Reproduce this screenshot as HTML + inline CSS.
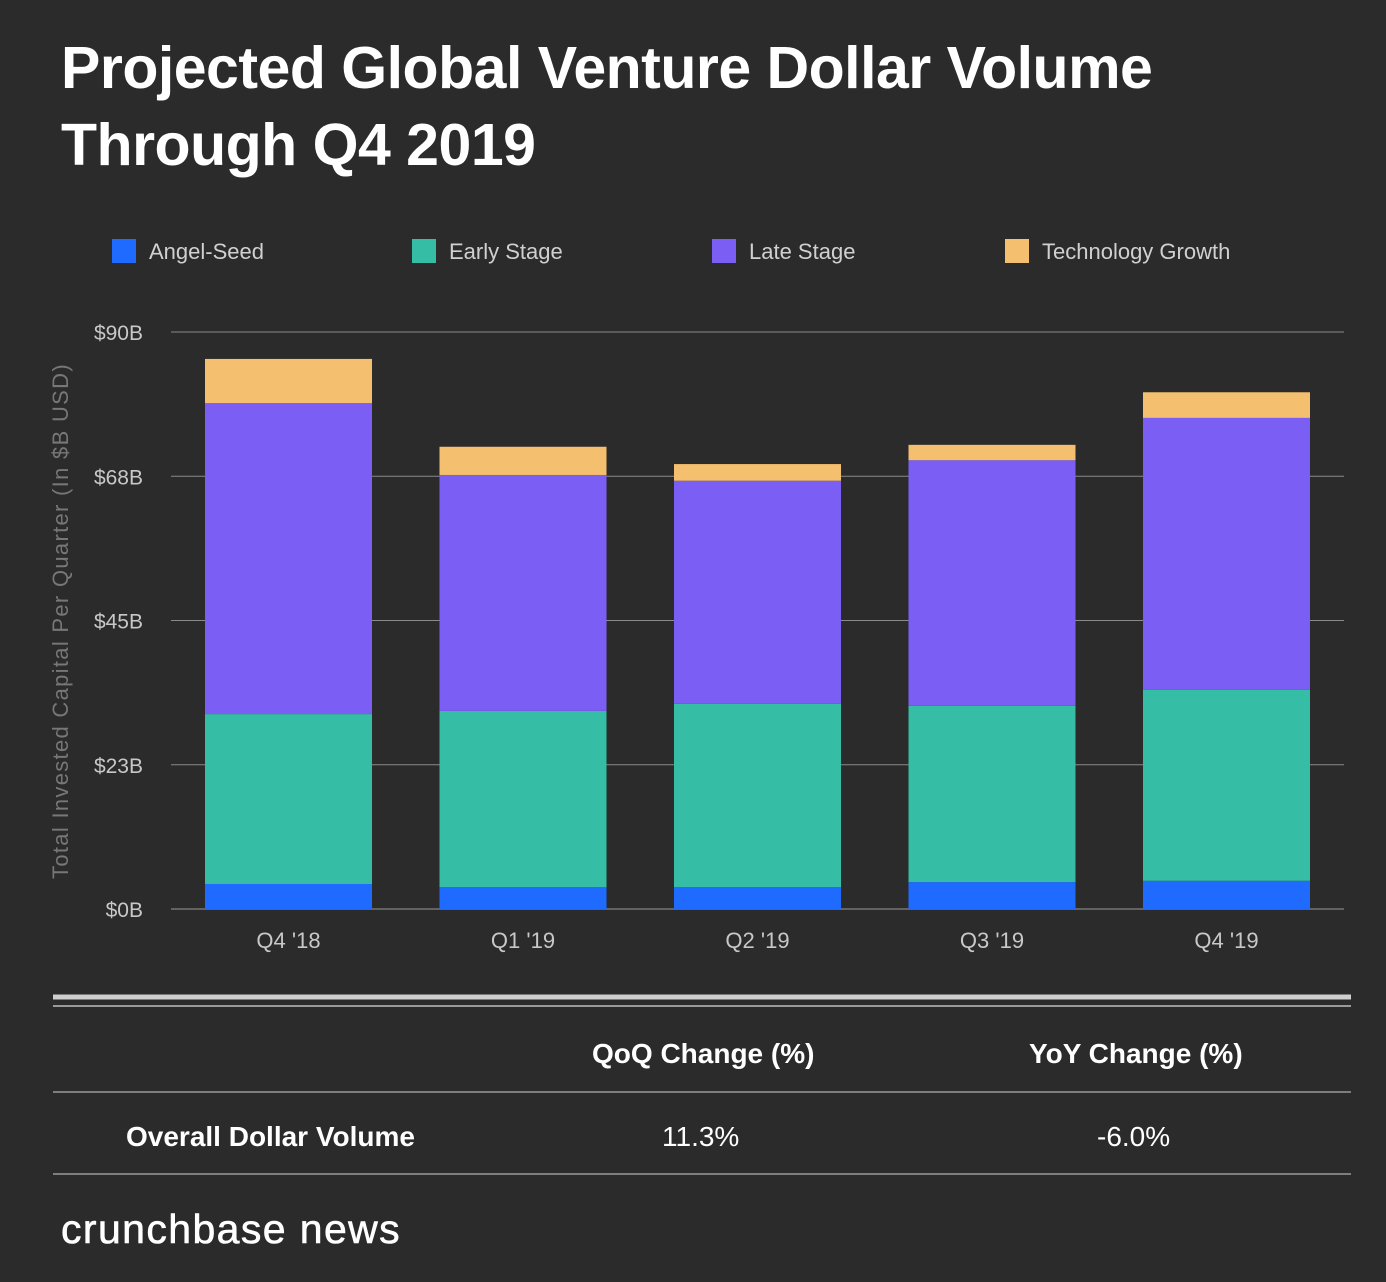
<!DOCTYPE html>
<html><head><meta charset="utf-8">
<style>
html,body{margin:0;padding:0;background:#2b2b2b;}
body{width:1386px;height:1282px;position:relative;overflow:hidden;font-family:"Liberation Sans",sans-serif;color:#fff;}
.t{position:absolute;white-space:nowrap;}
</style></head>
<body>
<div class="t" style="left:61px;top:30px;font-size:59px;font-weight:bold;line-height:77px;letter-spacing:-0.5px;">Projected Global Venture Dollar Volume<br>Through Q4 2019</div>

<svg width="1386" height="1282" style="position:absolute;left:0;top:0" id="chart"></svg>

<div class="t" style="left:592px;top:1038px;font-size:28px;font-weight:bold;">QoQ Change (%)</div>
<div class="t" style="left:1029px;top:1038px;font-size:28px;font-weight:bold;">YoY Change (%)</div>
<div class="t" style="left:126px;top:1121px;font-size:28px;font-weight:bold;">Overall Dollar Volume</div>
<div class="t" style="left:662px;top:1121px;font-size:28px;">11.3%</div>
<div class="t" style="left:1097px;top:1121px;font-size:28px;">-6.0%</div>
<div class="t" style="left:61px;top:1206px;font-size:41px;letter-spacing:1.4px;-webkit-text-stroke:0.6px #fff;">crunchbase news</div>

<script>
const categories=["Q4 '18","Q1 '19","Q2 '19","Q3 '19","Q4 '19"];
const seriesNames=["Angel-Seed","Early Stage","Late Stage","Technology Growth"];
const angelSeed=[3.9,3.4,3.4,4.2,4.4];
const earlyStage=[26.5,27.5,28.6,27.5,29.8];
const lateStage=[48.5,36.8,34.8,38.3,42.4];
const techGrowth=[6.9,4.4,2.6,2.4,4.0];
const tickValues=[0,22.5,45,67.5,90];
const tickLabels=["$0B","$23B","$45B","$68B","$90B"];
const colors=["#1f6bff","#35bda5","#7b5ff5","#f4bf6e"];
const series=[angelSeed,earlyStage,lateStage,techGrowth];
const NS="http://www.w3.org/2000/svg";
const svg=document.getElementById('chart');
const y0=909,yTop=332,maxV=90;
const y=v=>y0-(v/maxV)*(y0-yTop);
const x=i=>205+i*234.5;
const bw=167;
function mk(tag,attrs,txt){const e=document.createElementNS(NS,tag);for(const k in attrs)e.setAttribute(k,attrs[k]);if(txt!=null)e.textContent=txt;svg.appendChild(e);return e;}
tickValues.forEach((v,i)=>{
 const l=mk('line',{x1:171,x2:1344,y1:y(v),y2:y(v),stroke:i==0?'#9a9a9a':'#8a8a8a','stroke-width':1});
 
 
 const t=mk('text',{x:143,y:y(v)+8,'text-anchor':'end','font-size':21,fill:'#c8c8c8','font-family':'Liberation Sans, sans-serif'},tickLabels[i]);
 
 
});
const yt=mk('text',{x:0,y:0,transform:'translate(68,621) rotate(-90)','text-anchor':'middle','font-size':22,'letter-spacing':'1.3',fill:'#777','font-family':'Liberation Sans, sans-serif'},'Total Invested Capital Per Quarter (In $B USD)');


categories.forEach((c,i)=>{
 let cum=0;
 series.forEach((s,j)=>{
  const r=mk('rect',{x:x(i),y:y(cum+s[i]),width:bw,height:y(cum)-y(cum+s[i]),fill:colors[j]});
  
  
  cum+=s[i];
 });
 const t=mk('text',{x:x(i)+bw/2,y:948,'text-anchor':'middle','font-size':22,fill:'#c8c8c8','font-family':'Liberation Sans, sans-serif'},c);
 
 
});
const lx=[112,412,712,1005];
seriesNames.forEach((n,j)=>{
 const r=mk('rect',{x:lx[j],y:239,width:24,height:24,fill:colors[j]});
 
 
 const t=mk('text',{x:lx[j]+37,y:259,'font-size':22,fill:'#d0d0d0','font-family':'Liberation Sans, sans-serif'},n);
 
 
});
[[997,5,'#cfcfcf'],[1006,2,'#9a9a9a'],[1092,1.5,'#9a9a9a'],[1174,1.5,'#9a9a9a']].forEach(a=>{
 const l=mk('line',{x1:53,x2:1351,y1:a[0],y2:a[0],stroke:a[2],'stroke-width':a[1]});
 
 
});
</script>
</body></html>
